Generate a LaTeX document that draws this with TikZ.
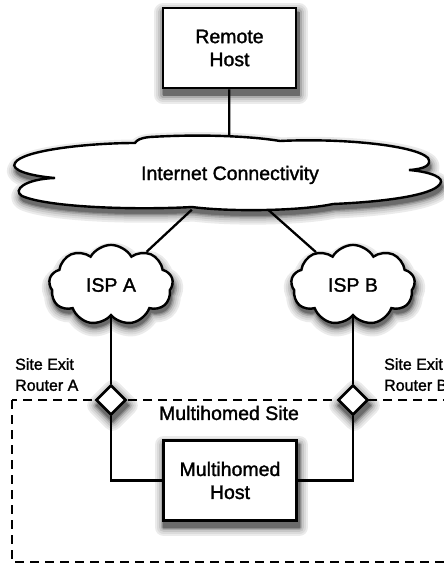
\documentclass[tikz,border=0pt]{standalone}
\usepackage{fontspec}
\setmainfont{Liberation Sans}[FakeBold=1.5]
\usetikzlibrary{shapes.geometric,shapes.symbols,calc}
\pgfdeclarelayer{shadow}
\pgfdeclarelayer{bg}
\pgfsetlayers{shadow,bg,main}
\def\inetpath{(55,178)
  .. controls (30,176) and (10,170) .. (15,163)
  .. controls (22,150) and (90,143) .. (135,143)
  .. controls (137,140) and (140,138) .. (150,137)
  .. controls (200,134) and (250,136) .. (280,141)
  .. controls (340,138) and (415,145) .. (428,158)
  .. controls (432,165) and (425,169) .. (409,170)
  .. controls (432,172) and (445,178) .. (440,184)
  .. controls (432,196) and (380,202) .. (333,204)
  .. controls (300,211) and (230,212) .. (192,207)
  .. controls (140,210) and (50,208) .. (22,196)
  .. controls (12,190) and (25,179) .. (55,178) -- cycle}
\newcommand\mkshadows[2]{%
  \path[draw=black!#2,fill=black!#2,line width=#1,line join=round]
    ($(rh.south west)+(1.5,5.5)$) rectangle ($(rh.north east)+(1.5,5.5)$);
  \path[draw=black!#2,fill=black!#2,line width=#1,line join=round]
    ($(mh.south west)+(1.5,5.5)$) rectangle ($(mh.north east)+(1.5,5.5)$);
  \path[draw=black!#2,fill=black!#2,line width=#1,line join=round]
    ($(ra.north)+(1.5,5.5)$) -- ($(ra.east)+(1.5,5.5)$) -- ($(ra.south)+(1.5,5.5)$) -- ($(ra.west)+(1.5,5.5)$) -- cycle;
  \path[draw=black!#2,fill=black!#2,line width=#1,line join=round]
    ($(rb.north)+(1.5,5.5)$) -- ($(rb.east)+(1.5,5.5)$) -- ($(rb.south)+(1.5,5.5)$) -- ($(rb.west)+(1.5,5.5)$) -- cycle;
  \node[cloudshape,draw=black!#2,fill=black!#2,line width=#1] at ($(ispa)+(1.5,5.5)$) {};
  \node[cloudshape,draw=black!#2,fill=black!#2,line width=#1] at ($(ispb)+(1.5,5.5)$) {};
  \begin{scope}[shift={(1.5,5.5)}]
    \path[draw=black!#2,fill=black!#2,line width=#1,line join=round] \inetpath;
  \end{scope}}
\begin{document}
\begin{tikzpicture}[x=1pt,y=-1pt,
  bigfont/.style={font=\fontsize{19.5}{23}\selectfont},
  hostbox/.style={draw,line width=2.6pt,fill=white,minimum width=133pt,minimum height=80pt,align=center,bigfont},
  cloudshape/.style={cloud,cloud puffs=9,cloud puff arc=120,minimum width=124pt,minimum height=78pt,inner sep=0pt},
  ispcloud/.style={cloudshape,draw,line width=2.4pt,fill=white,bigfont},
  router/.style={diamond,draw,line width=2.6pt,fill=white,minimum width=30pt,minimum height=30pt,inner sep=0pt},
  link/.style={line width=2.3pt},
  sitebox/.style={line width=2.2pt,dash pattern=on 9pt off 6pt},
  lbl/.style={font=\fontsize{16}{21}\selectfont,align=left,inner sep=0pt},
]
\useasboundingbox (0,0) rectangle (444,565);

% site boundary
\draw[sitebox] (12,400) rectangle (460,562);

% internet cloud outline
\path[draw,line width=2.4pt,fill=white] \inetpath;
\node[ellipse,minimum width=425pt,minimum height=70pt,inner sep=0pt] (inet) at (229,175) {};
\node[bigfont,anchor=base] (inettxt) at (230,180) {Internet Connectivity};

\node[hostbox] (rh) at (229.5,48) {Remote\\Host};
\node[ispcloud] (ispa) at (111,285) {ISP A};
\node[ispcloud] (ispb) at (353,285) {ISP B};
\node[router] (ra) at (111,400) {};
\node[router] (rb) at (353,400) {};
\node[hostbox] (mh) at (230,480.5) {Multihomed\\Host};
\node[bigfont] (site) at (229,413) {Multihomed Site};

\node[lbl,anchor=north west] (la) at (15,358) {Site Exit\\Router A};
\node[lbl,anchor=north west] (lb) at (384,358) {Site Exit\\Router B};

\begin{pgfonlayer}{bg}
  \draw[link] (rh) -- (inet);
  \draw[link] (inet) -- (ispa);
  \draw[link] (inet) -- (ispb);
  \draw[link] (ispa) -- (ra);
  \draw[link] (ispb) -- (rb);
  \draw[link] (ra) |- (mh.west);
  \draw[link] (rb) |- (mh.east);
\end{pgfonlayer}

\begin{pgfonlayer}{shadow}
  \mkshadows{18pt}{8}
  \mkshadows{14pt}{14}
  \mkshadows{10pt}{22}
  \mkshadows{6pt}{33}
  \mkshadows{3pt}{45}
  \mkshadows{0.5pt}{58}
\end{pgfonlayer}
\end{tikzpicture}
\end{document}
